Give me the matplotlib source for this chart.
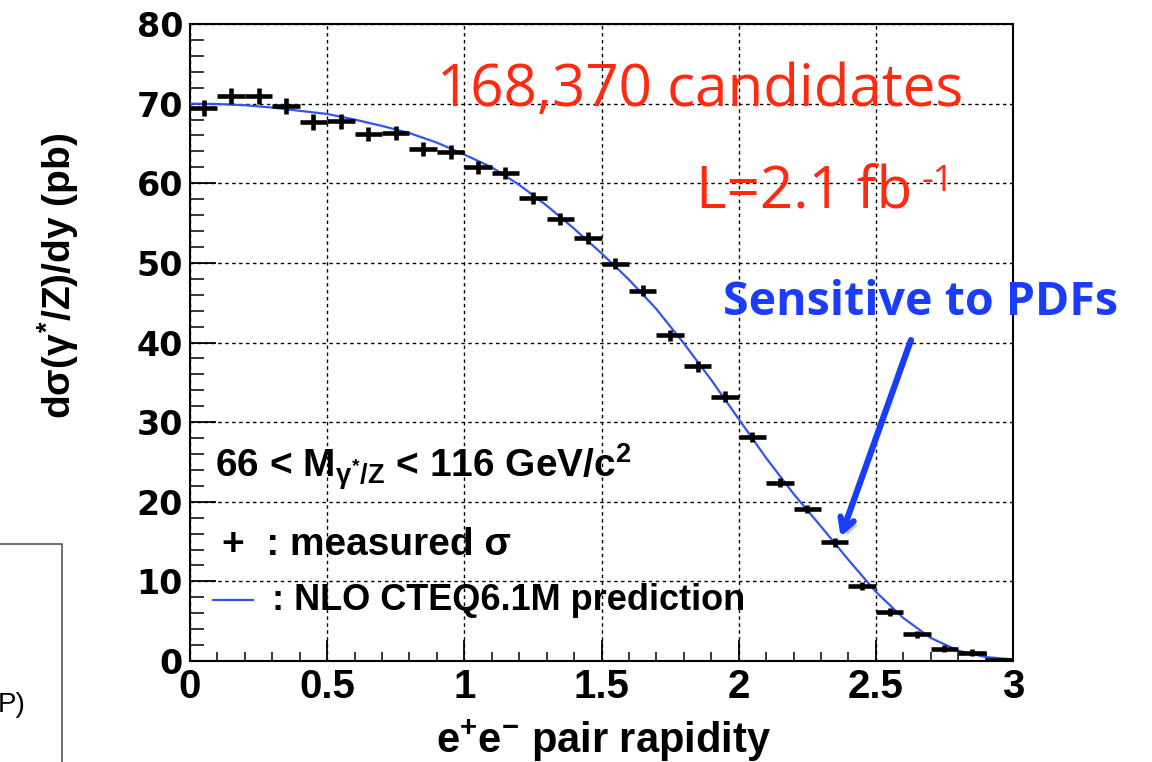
import numpy as np
import matplotlib
matplotlib.use("Agg")
import matplotlib.pyplot as plt
from matplotlib.patches import Rectangle
import matplotlib.patheffects as pe

plt.rcParams['font.family'] = ['Liberation Sans', 'DejaVu Sans']
plt.rcParams['mathtext.fontset'] = 'custom'
plt.rcParams['mathtext.rm'] = 'Liberation Sans:bold'
plt.rcParams['mathtext.it'] = 'Liberation Sans:bold'
plt.rcParams['mathtext.bf'] = 'Liberation Sans:bold'

# measured d sigma / dy in bins of rapidity (width 0.1)
bin_centers = [0.05, 0.15, 0.25, 0.35, 0.45, 0.55, 0.65, 0.75, 0.85, 0.95,
               1.05, 1.15, 1.25, 1.35, 1.45, 1.55, 1.65, 1.75, 1.85, 1.95,
               2.05, 2.15, 2.25, 2.35, 2.45, 2.55, 2.65, 2.75, 2.85, 2.95]
measured = [69.4, 71.0, 70.9, 69.7, 67.7, 67.8, 66.2, 66.3, 64.3, 63.9,
            62.0, 61.3, 58.2, 55.5, 53.1, 49.9, 46.5, 40.9, 37.0, 33.2,
            28.1, 22.4, 19.1, 14.9, 9.4, 6.2, 3.35, 1.55, 1.05, 0.1]
meas_err = [1.0, 1.0, 1.0, 1.0, 0.95, 0.95, 0.9, 0.9, 0.85, 0.85,
            0.8, 0.8, 0.75, 0.75, 0.75, 0.7, 0.7, 0.7, 0.65, 0.65,
            0.6, 0.6, 0.55, 0.55, 0.5, 0.5, 0.45, 0.4, 0.4, 0.1]
half_bin = 0.05

# NLO CTEQ6.1M prediction
nlo_y = [0.0, 0.1, 0.2, 0.3, 0.4, 0.5, 0.6, 0.7, 0.8, 0.9,
         1.0, 1.1, 1.2, 1.3, 1.4, 1.5, 1.6, 1.7, 1.8, 1.9,
         2.0, 2.1, 2.2, 2.3, 2.4, 2.5, 2.6, 2.7, 2.8, 2.9, 3.0]
nlo_sigma = [70.0, 69.95, 69.8, 69.5, 69.1, 68.7, 68.0, 67.2, 66.3, 65.1,
             63.6, 62.0, 59.8, 57.2, 54.3, 51.2, 47.9, 44.2, 39.9, 35.3,
             30.4, 25.5, 21.0, 16.9, 12.7, 8.7, 5.4, 2.9, 1.3, 0.5, 0.2]

xticks = [0, 0.5, 1, 1.5, 2, 2.5, 3]
xtick_labels = ['0', '0.5', '1', '1.5', '2', '2.5', '3']
yticks = [0, 10, 20, 30, 40, 50, 60, 70, 80]

fig = plt.figure(figsize=(11.52, 7.62), dpi=100)
ax = fig.add_axes([190/1152, 1-661/762, (1013-190)/1152, (661-24)/762])

ax.set_xlim(0, 3)
ax.set_ylim(0, 80)

ax.grid(True, which='major', color='black', linestyle=(0, (2.5, 2.5)), linewidth=1.0)
ax.set_axisbelow(True)

curve_color = '#3355ee'
ax.plot(nlo_y, nlo_sigma, color=curve_color, lw=1.6, zorder=3)
ax.errorbar(bin_centers, measured, xerr=half_bin, yerr=meas_err, fmt='none',
            ecolor='black', elinewidth=3.3, capsize=0, zorder=4)

ax.set_xticks(xticks)
ax.set_xticklabels(xtick_labels)
ax.set_yticks(yticks)
ax.set_xticks(np.arange(0, 3.0001, 0.1), minor=True)
ax.set_yticks(np.arange(0, 80.001, 2), minor=True)

ax.tick_params(axis='x', which='major', direction='in', length=15, width=1.3,
               pad=5, top=False, labelsize=29)
ax.tick_params(axis='x', which='minor', direction='in', length=6.5, width=1.1, top=False)
ax.tick_params(axis='y', which='major', direction='in', length=19, width=1.3,
               pad=5, right=False, labelsize=24)
ax.tick_params(axis='y', which='minor', direction='in', length=10, width=1.1, right=False)
for lab in ax.get_xticklabels():
    lab.set_fontweight('bold')
for lab in ax.get_yticklabels():
    lab.set_fontweight('heavy')
    lab.set_family('DejaVu Sans')

for s in ax.spines.values():
    s.set_linewidth(1.5)

ax.set_xlabel('e$^{+}$e$^{-}$ pair rapidity', fontsize=30, fontweight='bold')
ax.xaxis.set_label_coords(0.502, -0.088)
ax.set_ylabel(r'd$\sigma$($\gamma^{*}$/Z)/dy (pb)', fontsize=28, fontweight='bold')
ax.yaxis.set_label_coords(-0.132, 0.605)

# annotations inside the plot
ax.text(0.091, 23.0, r'66 < M$_{\gamma^{*}/\mathrm{Z}}$ < 116 GeV/c$^{2}$',
        fontsize=28, fontweight='bold', ha='left', va='baseline')
ax.text(0.117, 13.3, '+  : measured σ', fontsize=28, fontweight='bold',
        ha='left', va='baseline')
ax.plot([0.085, 0.23], [7.6, 7.6], color=curve_color, lw=1.6, clip_on=False)
ax.text(0.3, 6.4, ': NLO CTEQ6.1M prediction', fontsize=26, fontweight='bold',
        ha='left', va='baseline')

red = '#ff2a10'
ax.text(1.861, 71.6, '168,370 candidates', fontsize=42, color=red,
        family='Open Sans', ha='center', va='center')
ax.text(1.843, 56.8, 'L=2.1 fb', fontsize=42, color=red, family='Open Sans',
        ha='left', va='baseline')
ax.text(2.665, 59.0, '-1', fontsize=26, color=red, family='Open Sans',
        ha='left', va='baseline')

blue = '#1a3cff'
ax.text(1.942, 45.0, 'Sensitive to PDFs', fontsize=33.5, color=blue,
        family='Open Sans', fontweight='bold', ha='left', va='center', clip_on=False)
ann = ax.annotate('', xy=(2.372, 15.6), xytext=(2.628, 40.3),
                  arrowprops=dict(arrowstyle='->, head_length=0.9, head_width=0.5',
                                  lw=4.5, color=blue, shrinkA=0, shrinkB=0))
ann.arrow_patch.set_path_effects([pe.SimplePatchShadow(offset=(3, -3), alpha=0.3),
                                  pe.Normal()])

# fragment of a neighbouring panel on the left
fig.patches.append(Rectangle((-0.01, -0.01), 0.01 + 62/1152, 0.01 + (1 - 544/762),
                             transform=fig.transFigure, fill=False,
                             edgecolor='#555555', lw=1.2))
fig.text(-0.002, 1 - 712/762, 'P)', fontsize=20, ha='left', va='baseline')

fig.savefig('out.png', dpi=100)
